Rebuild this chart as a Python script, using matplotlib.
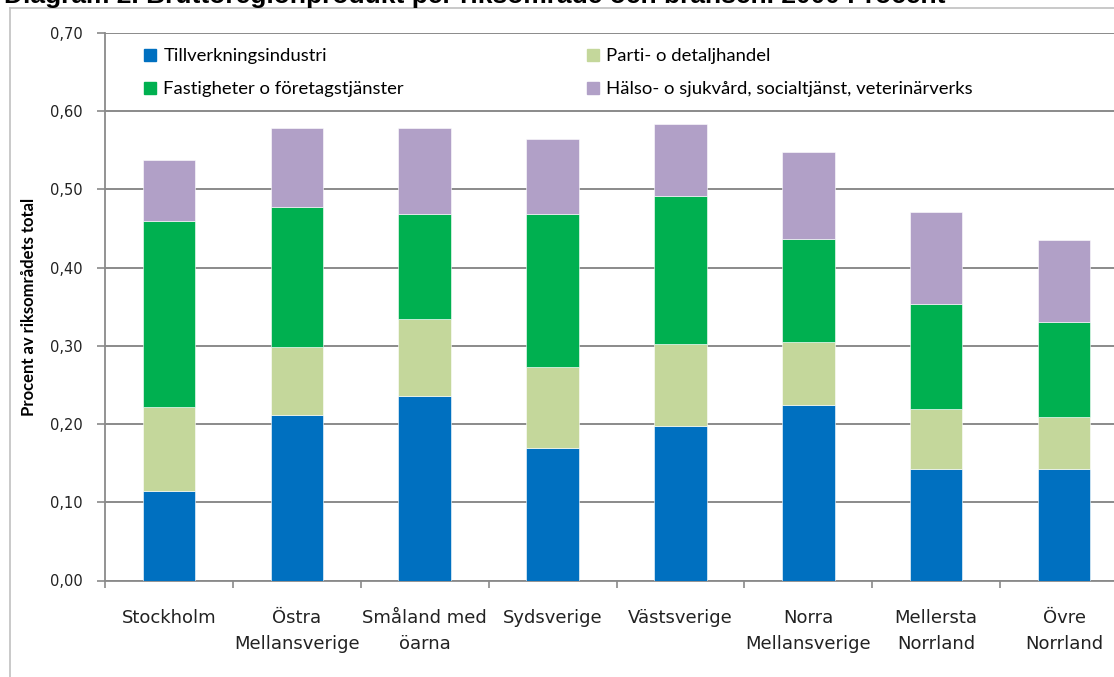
import matplotlib.pyplot as plt
from matplotlib.lines import Line2D
import numpy as np

# Regions and their share per industry (procent av riksområdets total)
regions = ['Stockholm', 'Östra\nMellansverige', 'Småland med\nöarna', 'Sydsverige',
           'Västsverige', 'Norra\nMellansverige', 'Mellersta\nNorrland', 'Övre\nNorrland']
tillverkning = [0.115, 0.211, 0.236, 0.170, 0.198, 0.224, 0.142, 0.142]
parti = [0.107, 0.087, 0.098, 0.103, 0.104, 0.081, 0.077, 0.067]
fastigheter = [0.238, 0.179, 0.135, 0.196, 0.190, 0.132, 0.135, 0.121]
halso = [0.077, 0.102, 0.110, 0.096, 0.092, 0.111, 0.117, 0.105]

series = ['Tillverkningsindustri', 'Parti- o detaljhandel',
          'Fastigheter o företagstjänster', 'Hälso- o sjukvård, socialtjänst, veterinärverks']
colors = ['#0070C0', '#C4D79B', '#00B050', '#B1A0C7']

W, H = 1114, 677
fig = plt.figure(figsize=(W / 100, H / 100), dpi=100)
ax = fig.add_axes([105 / W, 1 - 580.5 / H, 1023 / W, 547.5 / H])

x = np.arange(len(regions))
bottom = np.zeros(len(regions))
for vals, col in zip([tillverkning, parti, fastigheter, halso], colors):
    ax.bar(x, vals, width=0.41, bottom=bottom, color=col, edgecolor='white',
           linewidth=0.4, zorder=3)
    bottom += np.array(vals)

ax.set_xlim(-0.5, len(regions) - 0.5)
ax.set_ylim(0, 0.70)
yt = np.arange(0, 0.71, 0.1)
ax.set_yticks(yt)
ax.set_yticklabels([f'{v:.2f}'.replace('.', ',') for v in yt],
                   fontsize=10.5, family='DejaVu Sans', color='#222222')
ax.yaxis.grid(True, color='#8a8a8a', linewidth=1.4, zorder=0)

# category labels centred, ticks on the boundaries
ax.set_xticks(np.arange(-0.5, len(regions), 1.0))
ax.set_xticklabels([])
ax.set_xticks(x, minor=True)
ax.set_xticklabels(regions, minor=True, fontsize=13, family='DejaVu Sans',
                   color='#222222')
for lbl in ax.get_xticklabels(minor=True):
    lbl.set_linespacing(1.6)
ax.tick_params(axis='x', which='minor', length=0, pad=20.5)
ax.tick_params(axis='x', which='major', length=5, color='#8a8a8a', width=1.2)
ax.tick_params(axis='y', length=6, color='#8a8a8a', width=1.2, pad=10)

for s in ['top', 'right']:
    ax.spines[s].set_visible(False)
for s in ['left', 'bottom']:
    ax.spines[s].set_color('#8a8a8a')
    ax.spines[s].set_linewidth(1.3)

ax.set_ylabel('Procent av riksområdets total', fontsize=12, family='Lato',
              fontweight='bold')
ax.yaxis.set_label_coords(-68 / 1023, 0.5)

# legend in two columns
def handle(c):
    return Line2D([], [], marker='s', color=c, linestyle='none', markersize=8.5)

leg_kw = dict(frameon=False, prop={'family': 'Lato', 'size': 13.3},
              handlelength=0.8, handletextpad=0.3, labelspacing=0.92,
              borderpad=0, borderaxespad=0, loc='upper left')
fig.legend([handle(colors[0]), handle(colors[2])], [series[0], series[2]],
           bbox_to_anchor=(143 / W, 1 - 48 / H), **leg_kw)
fig.legend([handle(colors[1]), handle(colors[3])], [series[1], series[3]],
           bbox_to_anchor=(586 / W, 1 - 48 / H), **leg_kw)

# chart border and the title running off the top edge
fig.add_artist(Line2D([10 / W, 1], [1 - 8 / H, 1 - 8 / H], color='#c0c0c0', lw=1.2))
fig.add_artist(Line2D([10 / W, 10 / W], [0, 1 - 8 / H], color='#c0c0c0', lw=1.2))
fig.text(4 / W, 1 - 3 / H, 'Diagram 2. Bruttoregionprodukt per riksområde och bransch. 2000 Procent',
         fontsize=19, fontweight='bold', family='Liberation Sans', va='baseline', ha='left')

fig.savefig('out.png', dpi=100)
